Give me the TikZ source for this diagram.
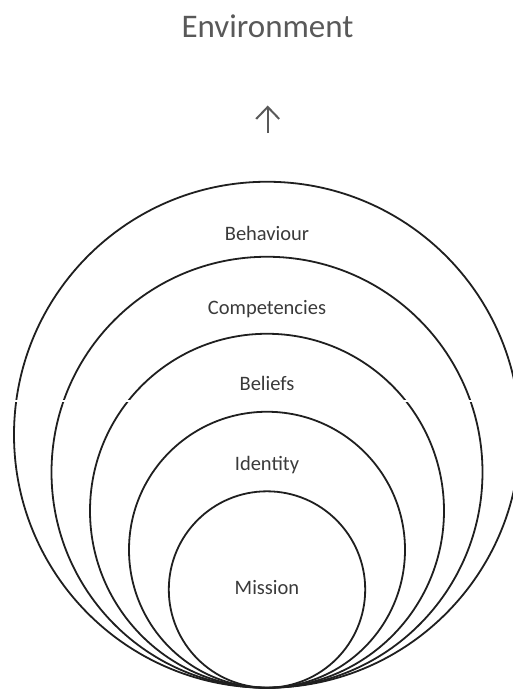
\documentclass[tikz,border=0pt]{standalone}
\usepackage{fontspec}
\setmainfont{Carlito}
\usetikzlibrary{arrows.meta}
\definecolor{envgray}{HTML}{595959}
\definecolor{labgray}{HTML}{3A3A3A}
\tikzset{
  ring/.style={draw=black!88, line width=1.8pt},
  lab/.style={text=labgray, font=\fontsize{20.5}{24}\selectfont, inner sep=0pt, anchor=base},
}
\begin{document}
\begin{tikzpicture}[x=1pt,y=-1pt]
\useasboundingbox (0,0) rectangle (513,689);
\begin{scope}
\clip (0,0) rectangle (513,689);
\draw[ring] (267,434.75) circle[radius=253pt];
\draw[ring] (267,472.25) circle[radius=215.5pt];
\draw[ring] (267,510.75) circle[radius=177pt];
\draw[ring] (267,549.75) circle[radius=138pt];
\draw[ring] (267,589.5) circle[radius=98.2pt];
\fill[white] (0,400.2) rectangle (513,402.2);
\end{scope}
\node[lab] (beh) at (267,240) {Behaviour};
\node[lab] (com) at (267,314) {Competencies};
\node[lab] (bel) at (267,390) {Beliefs};
\node[lab] (ide) at (267,470) {Identity};
\node[lab] (mis) at (267,594) {Mission};
\node[text=envgray, font=\fontsize{33}{38}\selectfont, inner sep=0pt, anchor=base] (env) at (267.5,37.5) {Environment};
\coordinate (abot) at (267.7,133);
\coordinate (atop) at (267.7,105.5);
\draw[envgray, line width=2pt, -{Straight Barb[length=12pt,width=23pt]}] (abot) -- (atop);
\end{tikzpicture}
\end{document}
